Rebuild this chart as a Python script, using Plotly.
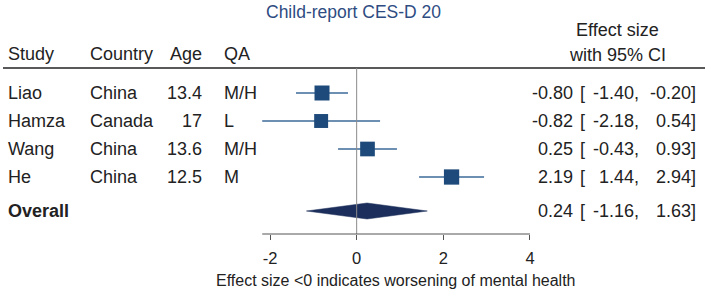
import plotly.graph_objects as go

# ---- data ----
studies = ["Liao", "Hamza", "Wang", "He"]
countries = ["China", "Canada", "China", "China"]
ages = ["13.4", "17", "13.6", "12.5"]
qa = ["M/H", "L", "M/H", "M"]
est = [-0.80, -0.82, 0.25, 2.19]
lo = [-1.40, -2.18, -0.43, 1.44]
hi = [-0.20, 0.54, 0.93, 2.94]
weights = [25.9, 22.4, 24.8, 26.9]
overall_label = "Overall"
overall = {"est": 0.24, "lo": -1.16, "hi": 1.63}
tick_vals = [-2, 0, 2, 4]
title_text = "Child-report CES-D 20"
xaxis_note = "Effect size <0 indicates worsening of mental health"
headers = ["Study", "Country", "Age", "QA"]
es_header = ["Effect size", "with 95% CI"]

# ---- geometry / style ----
W, H = 709, 293
FONT = "Liberation Sans, Arial, sans-serif"
TXT = "#222222"
FS = 18
row_px0, row_step = 93, 28          # pixel y of first row, spacing
plot_bottom = 234                    # pixel y of the x axis
px_zero, px_per_unit = 356.67, 43.33  # x scale

def row_of(px):
    return (px - row_px0) / row_step

def px_x(px):
    return px / W

def paper_y(px):
    return (plot_bottom - px) / plot_bottom

n = len(studies)
rows = list(range(n))
overall_row = row_of(211)

fig = go.Figure()

# CI lines + squares
sizes = [15 * (w / weights[0]) ** 0.5 for w in weights]
fig.add_trace(go.Scatter(
    x=est, y=rows, mode="markers",
    marker=dict(symbol="square", size=sizes, color="#1d4a7a", opacity=1, line=dict(width=0)),
    error_x=dict(type="data", symmetric=False,
                 array=[h - e for h, e in zip(hi, est)],
                 arrayminus=[e - l for e, l in zip(est, lo)],
                 color="#3d6b99", thickness=1.5, width=0),
    showlegend=False, hoverinfo="skip"))

# overall diamond
dh = 8 / row_step
fig.add_trace(go.Scatter(
    x=[overall["lo"], overall["est"], overall["hi"], overall["est"], overall["lo"]],
    y=[overall_row, overall_row - dh, overall_row, overall_row + dh, overall_row],
    mode="lines", fill="toself", fillcolor="#1c2e5b",
    line=dict(color="#1c2e5b", width=0.5), showlegend=False, hoverinfo="skip"))

ann = []

def txt(x, y, s, anchor="left", yref="y", bold=False, size=FS, color=TXT):
    ann.append(dict(x=x, y=y, xref="paper", yref=yref, text=(f"<b>{s}</b>" if bold else s),
                    showarrow=False, xanchor=anchor, yanchor="middle",
                    font=dict(family=FONT, size=size, color=color)))

# title
txt(px_x(353), paper_y(12), title_text, anchor="center", yref="paper", size=17.5, color="#2e4c82")
# headers
hy = paper_y(54)
txt(px_x(6), hy, headers[0], yref="paper")
txt(px_x(88), hy, headers[1], yref="paper")
txt(px_x(204), hy, headers[2], anchor="right", yref="paper")
txt(px_x(222), hy, headers[3], yref="paper")
txt(px_x(617), paper_y(30), es_header[0], anchor="center", yref="paper")
txt(px_x(617), paper_y(55), es_header[1], anchor="center", yref="paper")

def fmt(v):
    return f"{v:.2f}"

for i in range(n):
    txt(px_x(6), rows[i], studies[i])
    txt(px_x(88), rows[i], countries[i])
    txt(px_x(204), rows[i], ages[i], anchor="right")
    txt(px_x(222), rows[i], qa[i])
    txt(px_x(575), rows[i], fmt(est[i]), anchor="right")
    txt(px_x(578), rows[i], "[", anchor="left")
    txt(px_x(641), rows[i], fmt(lo[i]) + ",", anchor="right")
    txt(px_x(698), rows[i], fmt(hi[i]) + "]", anchor="right")

txt(px_x(6), overall_row, overall_label, bold=True)
txt(px_x(575), overall_row, fmt(overall["est"]), anchor="right")
txt(px_x(578), overall_row, "[", anchor="left")
txt(px_x(641), overall_row, fmt(overall["lo"]) + ",", anchor="right")
txt(px_x(698), overall_row, fmt(overall["hi"]) + "]", anchor="right")

# x-axis note
txt(px_x(395), paper_y(280), xaxis_note, anchor="center", yref="paper", size=16)

shapes = [
    # header rule
    dict(type="line", xref="paper", yref="paper", x0=px_x(3), x1=px_x(705),
         y0=paper_y(68), y1=paper_y(68), line=dict(color="#222222", width=1.5)),
    # zero line
    dict(type="line", xref="x", yref="paper", x0=0, x1=0,
         y0=0, y1=paper_y(68), line=dict(color="#8a8a8a", width=1)),
    # axis line
    dict(type="line", xref="x", yref="paper", x0=min(lo), x1=max(tick_vals),
         y0=0, y1=0, line=dict(color="#555555", width=1)),
]

fig.update_layout(
    width=W, height=H,
    margin=dict(l=0, r=0, t=0, b=H - plot_bottom),
    plot_bgcolor="white", paper_bgcolor="white",
    annotations=ann, shapes=shapes,
    xaxis=dict(range=[-px_zero / px_per_unit, (W - px_zero) / px_per_unit],
               tickvals=tick_vals, ticktext=[str(v) for v in tick_vals],
               ticks="outside", ticklen=5, tickcolor="#555555", tickwidth=1,
               ticklabelstandoff=4,
               showline=False, showgrid=False, zeroline=False,
               tickfont=dict(family=FONT, size=16.5, color=TXT)),
    yaxis=dict(range=[row_of(plot_bottom), row_of(0)], visible=False),
)

fig.write_html("out.html", config={"displayModeBar": False},
               post_script="document.body.style.margin='0';")
